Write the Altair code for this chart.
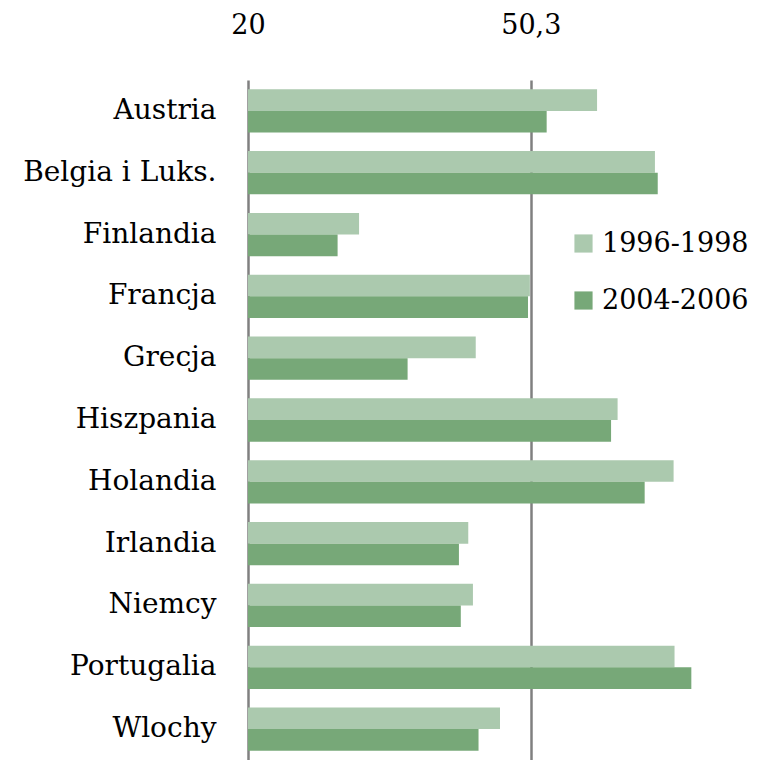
import altair as alt
import pandas as pd

countries = ["Austria", "Belgia i Luks.", "Finlandia", "Francja", "Grecja", "Hiszpania",
             "Holandia", "Irlandia", "Niemcy", "Portugalia", "Wlochy"]
series = ["1996-1998", "2004-2006"]
v1996 = [57.4, 63.6, 31.9, 50.2, 44.4, 59.6, 65.6, 43.6, 44.1, 65.7, 47.0]
v2004 = [52.0, 63.9, 29.6, 50.0, 37.1, 58.9, 62.5, 42.6, 42.8, 67.5, 44.7]
tick_values = [20, 50.3]
colors = ["#abc9ae", "#77a878"]

rows = []
for c, a, b in zip(countries, v1996, v2004):
    rows.append({"kraj": c, "okres": series[0], "wartosc": a})
    rows.append({"kraj": c, "okres": series[1], "wartosc": b})
df = pd.DataFrame(rows)

FONT = "DejaVu Serif"

chart = alt.Chart(df).mark_bar(orient="horizontal").encode(
    y=alt.Y("kraj:N", sort=countries, title=None,
            scale=alt.Scale(paddingInner=0.3, paddingOuter=0.15),
            axis=alt.Axis(domain=False, ticks=False, labelFont=FONT, labelFontSize=28,
                          labelColor="#000000", labelPadding=32, labelLimit=300)),
    yOffset=alt.YOffset("okres:N", sort=series, scale=alt.Scale(paddingInner=0, paddingOuter=0)),
    x=alt.X("wartosc:Q", title=None,
            scale=alt.Scale(domain=[20, 74], nice=False, zero=False, clamp=True),
            axis=alt.Axis(orient="top", values=tick_values, domain=False, ticks=False, tickSize=0,
                          labelPadding=41, labelFont=FONT, labelFontSize=27, labelColor="#000000",
                          labelFlush=False,
                          labelExpr="replace(toString(datum.value), '.', ',')",
                          grid=True, gridColor="#808080", gridWidth=2.5)),
    color=alt.Color("okres:N", sort=series, title=None,
                    scale=alt.Scale(domain=series, range=colors),
                    legend=alt.Legend(orient="none", legendX=322, legendY=150,
                                      symbolType="square", symbolSize=330, symbolStrokeWidth=0,
                                      labelFont=FONT, labelFontSize=27, labelColor="#000000",
                                      rowPadding=29, labelOffset=5, labelLimit=300)),
).properties(
    width=504, height=680,
    autosize=alt.AutoSizeParams(type="none"),
    padding={"left": 240, "top": 72, "right": 0, "bottom": 0},
).configure_view(stroke=None)

chart.save("out.html", embed_options={"renderer": "svg", "actions": False})
